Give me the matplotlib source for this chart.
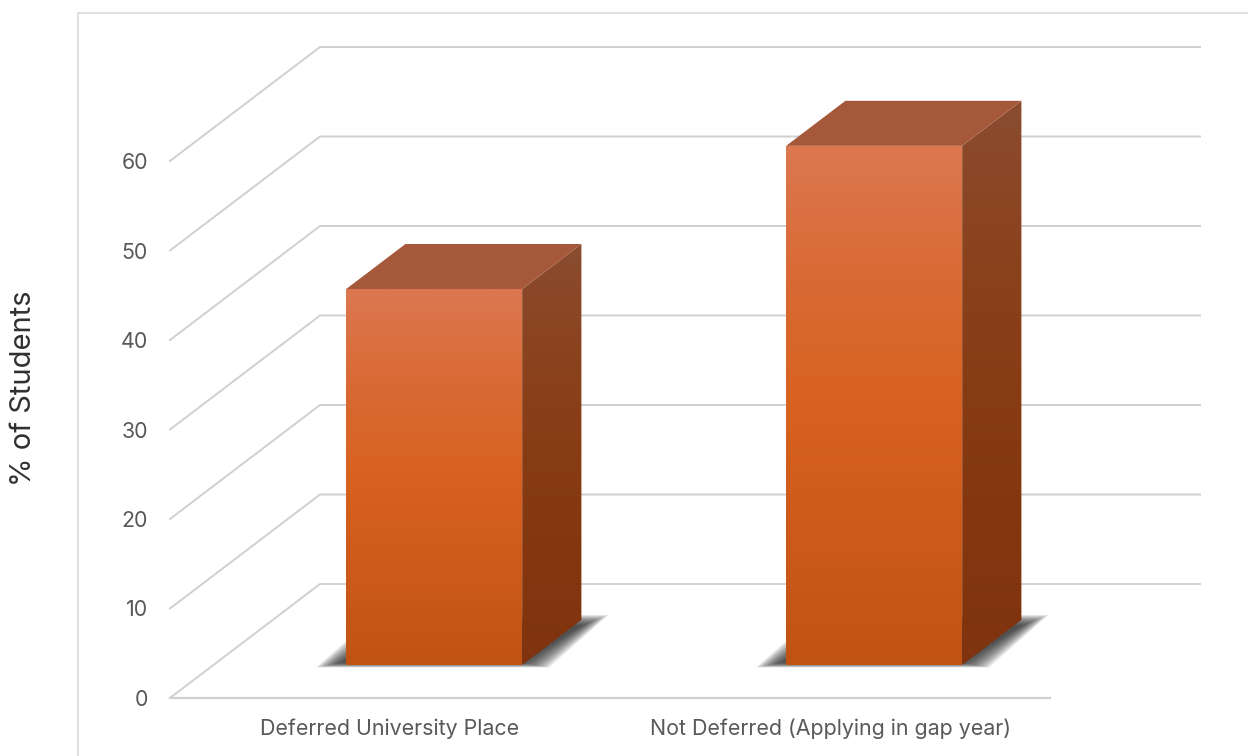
import numpy as np
import matplotlib
matplotlib.use("Agg")
from matplotlib import pyplot as plt
from matplotlib.colors import LinearSegmentedColormap
from matplotlib.lines import Line2D
from matplotlib.patches import Polygon

plt.rcParams['font.family'] = ['Inter', 'DejaVu Sans']

categories = ["Deferred University Place", "Not Deferred (Applying in gap year)"]
values = [42, 58]
yticks = [0, 10, 20, 30, 40, 50, 60]
ylabel = "% of Students"

W, H = 1248, 756
fig = plt.figure(figsize=(W / 100, H / 100), dpi=100)
ax = fig.add_axes([170 / W, (H - 698) / H, 880 / W, 537 / H])
ax.set_xlim(0, len(categories))
ax.set_ylim(0, 60)
ax.patch.set_visible(False)
for s in ax.spines.values():
    s.set_visible(False)

# 3d look: depth d moves a point right and up by a fixed shear
PX_X = 440
PX_V = 8.95
DX = 150 / PX_X
DY = 114 / PX_V
BAR_D0 = 0.29
BAR_D1 = 0.685
BAR_L = 0.3015
BAR_R = 0.7015

def proj(x, v, d):
    return x + d * DX, v + d * DY

GRID = '#d0d0d0'
for v in yticks:
    x0, y0 = proj(0, v, 0)
    x1, y1 = proj(0, v, 1)
    x2, y2 = proj(len(categories), v, 1)
    ax.plot([x0, x1, x2], [y0, y1, y2], color=GRID, lw=1.4, clip_on=False, zorder=1,
            solid_joinstyle='miter')
ax.plot([0, len(categories)], [0, 0], color=GRID, lw=1.6, clip_on=False, zorder=1)

def gradient_face(pts, colors):
    pts = np.array(pts)
    cmap = LinearSegmentedColormap.from_list('f', colors)
    grad = np.linspace(0, 1, 256).reshape(-1, 1)
    ext = [pts[:, 0].min(), pts[:, 0].max(), pts[:, 1].min(), pts[:, 1].max()]
    im = ax.imshow(grad, cmap=cmap, extent=ext, origin='upper', aspect='auto', zorder=4,
                   interpolation='bilinear')
    poly = Polygon(pts, closed=True, transform=ax.transData, fc='none', ec='none')
    im.set_clip_box(fig.bbox)
    im.set_clip_path(poly)

FRONT = ['#dc7750', '#d96a35', '#d8621f', '#cd5a1a', '#c15312']
SIDE = ['#8b4c30', '#8a431f', '#883c14', '#84370f', '#7f330e']
TOP = '#a5593a'

for i, val in enumerate(values):
    xl = i + BAR_L
    xr = i + BAR_R

    # blurry floor shadow, stacked translucent layers from outer edge to inner edge
    n = 18
    for k in range(n):
        t = k / (n - 1)
        dl = (-30 + 26 * t) / PX_X
        dr = (27 - 27 * t) / PX_X
        dv_front = (2.5 - 5 * t) / PX_V
        dv_back = (5 - 11 * t) / PX_V
        sh = [proj(xl + dl, -dv_front, BAR_D0),
              proj(xr + dr, -dv_front, BAR_D0),
              proj(xr + dr, dv_back, BAR_D1),
              proj(xl + dl, dv_back, BAR_D1)]
        ax.add_patch(Polygon(sh, closed=True, fc='#303030', ec='none', alpha=0.09,
                             clip_on=False, zorder=2))

    a = proj(xl, 0, BAR_D0)
    b = proj(xr, 0, BAR_D0)
    c = proj(xr, val, BAR_D0)
    d = proj(xl, val, BAR_D0)
    e = proj(xr, 0, BAR_D1)
    f = proj(xr, val, BAR_D1)
    g = proj(xl, val, BAR_D1)

    gradient_face([a, b, c, d], FRONT)
    gradient_face([b, e, f, c], SIDE)
    ax.add_patch(Polygon([d, c, f, g], closed=True, fc=TOP, ec='none', clip_on=False, zorder=4))

ax.set_xlim(0, len(categories))
ax.set_ylim(0, 60)

ax.set_xticks([i + 0.5 for i in range(len(categories))])
ax.set_xticklabels(categories)
ax.set_yticks(yticks)
ax.tick_params(axis='x', length=0, pad=15, labelsize=15.4, labelcolor='#595959')
ax.tick_params(axis='y', length=0, pad=16, labelsize=15.4, labelcolor='#595959')

fig.text(24 / W, 1 - 388 / H, ylabel, rotation=90, ha='center', va='center',
         fontsize=21, color='#303030')

# chart frame, cut by the picture edge on the right and bottom
fig.add_artist(Line2D([78 / W, 78 / W, 1], [0, 1 - 13 / H, 1 - 13 / H], color='#d9d9d9', lw=1.2))

fig.savefig('out.png', dpi=100)
